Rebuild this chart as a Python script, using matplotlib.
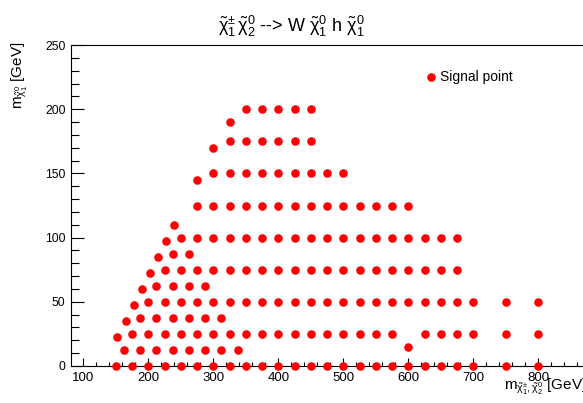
import matplotlib
matplotlib.use("Agg")
import matplotlib.pyplot as plt
from matplotlib.ticker import MultipleLocator

# ---------------- data (GeV) ----------------
# full rows of the signal grid: m(chi1+-,chi2_0) values for each m(chi1_0)
row_y = [0, 12.5, 25, 37.5, 50, 62.5, 75, 87.5, 100, 125, 150, 175, 200]
row_0 = [150, 175, 200, 225, 250, 275, 300, 325, 350, 375, 400, 425, 450, 475,
         500, 525, 550, 575, 600, 625, 650, 675, 700, 750, 800]
row_12p5 = [162.5, 187.5, 212.5, 237.5, 262.5, 287.5, 312.5, 337.5]
row_25 = [175, 200, 225, 250, 275, 300, 325, 350, 375, 400, 425, 450, 475, 500,
          525, 550, 575, 625, 650, 675, 700, 750, 800]
row_37p5 = [187.5, 212.5, 237.5, 262.5, 287.5, 312.5]
row_50 = [200, 225, 250, 275, 300, 325, 350, 375, 400, 425, 450, 475, 500, 525,
          550, 575, 600, 625, 650, 675, 700, 750, 800]
row_62p5 = [212.5, 237.5, 262.5, 287.5]
row_75 = [225, 250, 275, 300, 325, 350, 375, 400, 425, 450, 475, 500, 525, 550,
          575, 600, 625, 650, 675]
row_87p5 = [237.5, 262.5]
row_100 = [250, 275, 300, 325, 350, 375, 400, 425, 450, 475, 500, 525, 550, 575,
           600, 625, 650, 675]
row_125 = [275, 300, 325, 350, 375, 400, 425, 450, 475, 500, 525, 550, 575, 600]
row_150 = [300, 325, 350, 375, 400, 425, 450, 475, 500]
row_175 = [325, 350, 375, 400, 425, 450]
row_200 = [350, 375, 400, 425, 450]

# isolated points (near-diagonal and extra)
extra_x = [152.5, 165, 177.5, 190, 202.5, 215, 227.5, 240, 275, 300, 325, 600]
extra_y = [22.5, 35, 47.5, 60, 72.5, 85, 97.5, 110, 145, 170, 190, 15]

rows = [row_0, row_12p5, row_25, row_37p5, row_50, row_62p5, row_75, row_87p5,
        row_100, row_125, row_150, row_175, row_200]

xs, ys = [], []
for yv, r in zip(row_y, rows):
    xs.extend(r)
    ys.extend([yv] * len(r))
xs.extend(extra_x)
ys.extend(extra_y)

# ---------------- style ----------------
plt.rcParams['font.family'] = ['Liberation Sans', 'DejaVu Sans']
plt.rcParams['mathtext.fontset'] = 'custom'
plt.rcParams['mathtext.rm'] = 'Liberation Sans'
plt.rcParams['mathtext.it'] = 'Liberation Sans'
plt.rcParams['mathtext.bf'] = 'Liberation Sans:bold'

W, H, DPI = 583, 403, 100
fig = plt.figure(figsize=(W / DPI, H / DPI), dpi=DPI)

xmin, xmax = 81, 880
ax_left, ax_bottom, ax_top = 71, 366, 45
ax_w = (xmax - xmin) * 0.65
ax = fig.add_axes([ax_left / W, (H - ax_bottom) / H, ax_w / W, (ax_bottom - ax_top) / H])

sc = ax.scatter(xs, ys, s=38, color='#ff0000', linewidths=0, clip_on=False,
                zorder=3, label='Signal point')

ax.set_xlim(xmin, xmax)
ax.set_ylim(0, 250)

for side in ['left', 'top', 'bottom']:
    ax.spines[side].set_linewidth(0.8)
    ax.spines[side].set_color('black')
ax.spines['right'].set_visible(False)

ax.xaxis.set_major_locator(MultipleLocator(100))
ax.xaxis.set_minor_locator(MultipleLocator(20))
ax.yaxis.set_major_locator(MultipleLocator(50))
ax.yaxis.set_minor_locator(MultipleLocator(10))

ax.tick_params(axis='x', which='major', direction='in', length=6, width=0.8,
               labelsize=9.5, pad=4)
ax.tick_params(axis='x', which='minor', direction='in', length=3.2, width=0.8)
ax.tick_params(axis='y', which='major', direction='in', length=9.5, width=0.8,
               labelsize=8.8, pad=4)
ax.tick_params(axis='y', which='minor', direction='in', length=5.5, width=0.8)

# title
fig.text(0.5, 1 - 32 / H,
         r'$\tilde{\chi}^{\pm}_{1}\,\tilde{\chi}^{0}_{2}$ --> W $\tilde{\chi}^{0}_{1}$ h $\tilde{\chi}^{0}_{1}$',
         ha='center', va='baseline', fontsize=13)

# axis labels
fig.text(20 / W, 1 - 42 / H, r'm$_{\tilde{\chi}^{0}_{1}}$ [GeV]',
         rotation=90, ha='center', va='top', fontsize=11)
fig.text(586 / W, 1 - 390 / H, r'm$_{\tilde{\chi}^{\pm}_{1},\tilde{\chi}^{0}_{2}}$ [GeV]',
         ha='right', va='baseline', fontsize=11)

# legend
ax.legend(handles=[sc], loc='center left', bbox_to_anchor=(425 / W, 1 - 77 / H),
          bbox_transform=fig.transFigure, frameon=False, fontsize=10,
          handlelength=0.9, handletextpad=0.2, borderpad=0, borderaxespad=0,
          scatterpoints=1)

fig.savefig('out.png', dpi=DPI)
